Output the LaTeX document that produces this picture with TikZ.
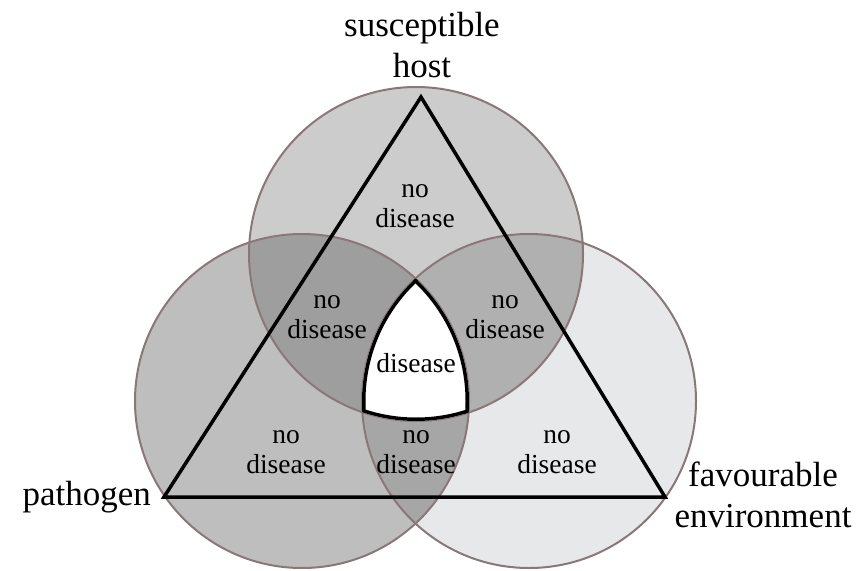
\documentclass[tikz,border=0pt]{standalone}
\usepackage{fontspec}
\setmainfont{Liberation Serif}
\definecolor{ctop}{RGB}{204,204,204}
\definecolor{cleft}{RGB}{190,190,191}
\definecolor{cright}{RGB}{231,232,234}
\definecolor{ctl}{RGB}{158,158,158}
\definecolor{ctr}{RGB}{176,176,176}
\definecolor{clr}{RGB}{166,166,166}
\definecolor{rim}{RGB}{138,120,120}
\tikzset{
  title/.style={font=\fontsize{35}{41}\selectfont, align=center, inner sep=0pt, anchor=base},
  region/.style={font=\fontsize{27.5}{29.5}\selectfont, align=center, inner sep=0pt, anchor=base},
  tri/.style={draw=black, line width=3.5pt, line join=miter},
  rimline/.style={draw=rim, line width=2pt}
}
\begin{document}
\begin{tikzpicture}[x=1pt,y=-1pt]
\useasboundingbox (0,0) rectangle (859,570);
\fill[white] (0,0) rectangle (859,570);
\coordinate (T) at (416,254);
\coordinate (L) at (302,401);
\coordinate (R) at (529,401);
\def\rr{167pt}
% single fills
\fill[ctop] (T) circle[radius=\rr];
\fill[cleft] (L) circle[radius=\rr];
\fill[cright] (R) circle[radius=\rr];
% pairwise overlaps
\begin{scope}\clip (T) circle[radius=\rr]; \fill[ctl] (L) circle[radius=\rr];\end{scope}
\begin{scope}\clip (T) circle[radius=\rr]; \fill[ctr] (R) circle[radius=\rr];\end{scope}
\begin{scope}\clip (L) circle[radius=\rr]; \fill[clr] (R) circle[radius=\rr];\end{scope}
% outlines
\draw[rimline] (T) circle[radius=\rr];
\draw[rimline] (L) circle[radius=\rr];
\draw[rimline] (R) circle[radius=\rr];
% triple intersection: white with black border
\begin{scope}
  \clip (T) circle[radius=\rr];
  \clip (L) circle[radius=\rr];
  \clip (R) circle[radius=\rr];
  \fill[white] (T) circle[radius=\rr];
  \draw[black, line width=7pt] (T) circle[radius=\rr];
  \draw[black, line width=7pt] (L) circle[radius=\rr];
  \draw[black, line width=7pt] (R) circle[radius=\rr];
\end{scope}
% triangle
\coordinate (A) at (421,97);
\coordinate (B) at (164,497);
\coordinate (C) at (665,497);
\draw[tri] (A) -- (B) -- (C) -- cycle;
% labels (base anchor = baseline of last line)
\node[title] (host) at (422,77) {susceptible\\host};
\node[title, anchor=base east] (path) at (151,505) {pathogen};
\node[title] (env) at (763,527) {favourable\\environment};
\node[region] (r1) at (415,227) {no\\disease};
\node[region] (r2) at (327,338) {no\\disease};
\node[region] (r3) at (505,338) {no\\disease};
\node[region] (r4) at (416,372) {disease};
\node[region] (r5) at (286,473) {no\\disease};
\node[region] (r6) at (416,473) {no\\disease};
\node[region] (r7) at (557,473) {no\\disease};
\end{tikzpicture}
\end{document}
